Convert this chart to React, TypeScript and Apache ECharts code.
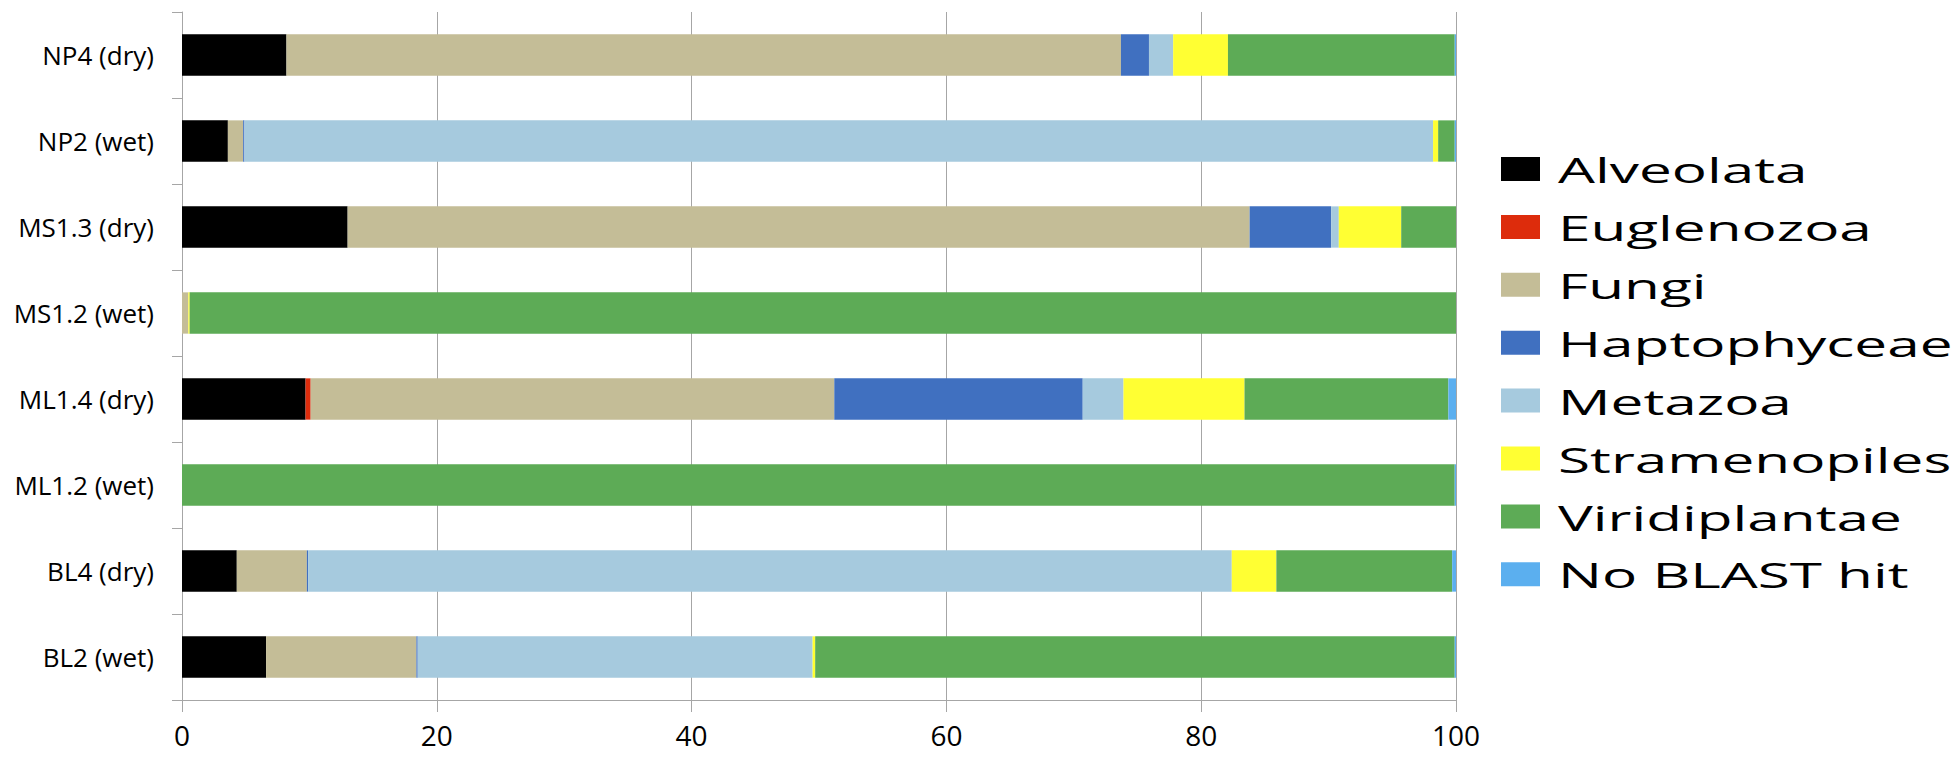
import React, { useEffect, useRef } from "react";
import * as echarts from "echarts";

const categories = [
  "BL2 (wet)",
  "BL4 (dry)",
  "ML1.2 (wet)",
  "ML1.4 (dry)",
  "MS1.2 (wet)",
  "MS1.3 (dry)",
  "NP2 (wet)",
  "NP4 (dry)",
];

const seriesNames = [
  "Alveolata",
  "Euglenozoa",
  "Fungi",
  "Haptophyceae",
  "Metazoa",
  "Stramenopiles",
  "Viridiplantae",
  "No BLAST hit",
];

const alveolata = [6.6, 4.3, 0, 9.7, 0, 13.0, 3.6, 8.2];
const euglenozoa = [0, 0, 0, 0.4, 0, 0, 0, 0];
const fungi = [11.8, 5.5, 0, 41.1, 0.5, 70.8, 1.2, 65.5];
const haptophyceae = [0.1, 0.1, 0, 19.5, 0, 6.4, 0.1, 2.2];
const metazoa = [31.0, 72.5, 0, 3.2, 0, 0.6, 93.3, 1.9];
const stramenopiles = [0.2, 3.5, 0, 9.5, 0.1, 4.9, 0.4, 4.3];
const viridiplantae = [50.2, 13.8, 99.9, 16.0, 99.4, 4.3, 1.3, 17.8];
const noBlastHit = [0.1, 0.3, 0.1, 0.6, 0, 0, 0.1, 0.1];

const xTicks = [0, 20, 40, 60, 80, 100];

const seriesValues = [
  alveolata,
  euglenozoa,
  fungi,
  haptophyceae,
  metazoa,
  stramenopiles,
  viridiplantae,
  noBlastHit,
];

const colors = [
  "#000000",
  "#DD2C0C",
  "#C4BD97",
  "#4070C0",
  "#A6CADE",
  "#FFFF33",
  "#5DAB56",
  "#5BAFEF",
];

export default function App() {
  const ref = useRef<HTMLDivElement>(null);

  useEffect(() => {
    if (!ref.current) return;
    const chart = echarts.init(ref.current, undefined, { renderer: "svg" });

    const legendX = 1501;
    const legendY0 = 169;
    const legendStep = 57.9;
    const legendGraphics: any[] = [];
    seriesNames.forEach((name, i) => {
      const cy = legendY0 + i * legendStep;
      legendGraphics.push({
        type: "rect",
        shape: { x: legendX, y: cy - 12, width: 39, height: 24 },
        style: { fill: colors[i] },
        silent: true,
      });
      legendGraphics.push({
        type: "text",
        x: 1558,
        y: cy + 1,
        scaleX: 1.72,
        style: {
          text: name,
          x: 0,
          y: 0,
          fontSize: 34,
          fontFamily: "Open Sans",
          fill: "#000000",
          textAlign: "left",
          textVerticalAlign: "middle",
          verticalAlign: "middle",
        },
        silent: true,
      });
    });

    const option: any = {
      animation: false,
      backgroundColor: "#ffffff",
      grid: {
        left: 182,
        top: 12,
        right: 1960 - 1456,
        bottom: 763 - 700,
        containLabel: false,
      },
      xAxis: {
        type: "value",
        min: xTicks[0],
        max: xTicks[xTicks.length - 1],
        interval: 20,
        axisLine: { show: true, lineStyle: { color: "#A6A6A6", width: 1 } },
        axisTick: {
          show: true,
          length: 12,
          lineStyle: { color: "#A6A6A6", width: 1 },
        },
        splitLine: { show: true, lineStyle: { color: "#A6A6A6", width: 1 } },
        axisLabel: {
          color: "#000000",
          fontSize: 28,
          fontFamily: "Open Sans",
          margin: 21,
        },
      },
      yAxis: {
        type: "category",
        data: categories,
        axisLine: { show: true, lineStyle: { color: "#A6A6A6", width: 1 } },
        axisTick: {
          show: true,
          length: 10,
          alignWithLabel: false,
          lineStyle: { color: "#A6A6A6", width: 1 },
        },
        splitLine: { show: false },
        axisLabel: {
          color: "#000000",
          fontSize: 26,
          fontFamily: "Open Sans",
          margin: 28,
        },
      },
      series: seriesNames.map((name, i) => ({
        name,
        type: "bar",
        stack: "total",
        barWidth: "48%",
        data: seriesValues[i],
        itemStyle: { color: colors[i] },
        emphasis: { disabled: true },
      })),
      graphic: legendGraphics,
    };

    chart.setOption(option);
    return () => {
      chart.dispose();
    };
  }, []);

  return (
    <div
      ref={ref}
      style={{
        position: "fixed",
        left: 0,
        top: 0,
        width: 1960,
        height: 763,
        background: "#ffffff",
      }}
    />
  );
}
